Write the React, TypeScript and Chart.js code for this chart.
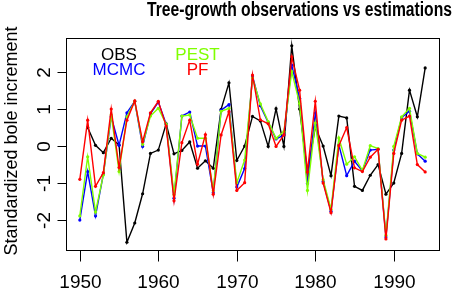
import React, { useEffect, useRef } from "react";
import { Chart, registerables } from "chart.js";

Chart.register(...registerables);

const years: number[] = [
  1950, 1951, 1952, 1953, 1954, 1955, 1956, 1957, 1958, 1959,
  1960, 1961, 1962, 1963, 1964, 1965, 1966, 1967, 1968, 1969,
  1970, 1971, 1972, 1973, 1974, 1975, 1976, 1977, 1978, 1979,
  1980, 1981, 1982, 1983, 1984, 1985, 1986, 1987, 1988, 1989,
  1990, 1991, 1992, 1993, 1994,
];

const obs: (number | null)[] = [
  null, 0.51, 0.03, -0.17, 0.22, 0.04, -2.59, -2.07, -1.28, -0.19,
  -0.1, 0.61, -0.2, -0.11, 0.12, -0.59, -0.39, -0.59, 1.0, 1.72,
  -0.38, 0.01, 0.81, 0.69, 0.0, 1.02, 0.0, 2.72, 1.01, -0.7,
  0.52, 0.01, -0.79, 0.82, 0.77, -1.08, -1.19, -0.78, -0.49, -1.29,
  -0.99, -0.19, 1.52, 0.8, 2.12,
];

const mcmc: number[] = [
  -1.99, -0.68, -1.88, -0.75, 0.8, 0.03, 0.91, 1.22, 0.0, 0.88,
  1.2, 0.6, -1.4, 0.82, 0.93, 0.01, 0.01, -1.25, 0.98, 1.13,
  -1.1, -0.6, 1.9, 1.1, 0.65, 0.2, 0.31, 2.2, 1.3, -1.0,
  0.9, -0.95, -1.75, 0.04, -0.79, -0.4, -0.66, -0.1, -0.08, -2.45,
  -0.1, 0.78, 0.95, -0.2, -0.4,
];

const pest: number[] = [
  -1.88, -0.28, -1.77, -0.77, 0.85, -0.68, 0.8, 1.22, 0.06, 0.82,
  1.03, 0.6, -1.3, 0.82, 0.85, 0.22, 0.22, -1.2, 0.95, 1.03,
  -0.98, -0.37, 1.85, 1.15, 0.67, 0.22, 0.4, 2.02, 1.16, -1.19,
  0.63, -0.9, -1.7, 0.23, -0.48, -0.28, -0.65, 0.02, -0.06, -2.4,
  0.0, 0.8, 1.03, -0.19, -0.29,
];

const pf: number[] = [
  -0.89, 0.71, -1.08, -0.71, 1.01, -0.57, 0.71, 1.23, 0.13, 0.91,
  1.22, 0.55, -1.47, 0.1, 0.71, -0.48, 0.32, -1.29, 0.31, 0.94,
  -1.19, -0.98, 1.93, 0.72, 0.61, 0.0, 0.31, 2.42, 1.52, -0.69,
  1.22, -0.99, -1.79, 0.02, 0.51, -0.58, -0.68, -0.29, -0.08, -2.5,
  -0.19, 0.71, 0.82, -0.49, -0.69,
];

const xTicks: number[] = [1950, 1960, 1970, 1980, 1990];
const yTicks: number[] = [-2, -1, 0, 1, 2];

const seriesNames: string[] = ["OBS", "MCMC", "PEST", "PF"];
const seriesColors: string[] = ["#000000", "#0000FF", "#7FFF00", "#FF0000"];

const titleText = "Tree-growth observations vs estimations";
const yTitle = "Standardized bole increment";

const FONT = "'Liberation Sans', Arial, Helvetica, sans-serif";

const toPoints = (vals: (number | null)[]) =>
  years.map((yr, i) => ({ x: yr, y: vals[i] }));

const rPlotPlugin = {
  id: "rPlot",
  afterDraw(chart: any) {
    const ctx = chart.ctx as CanvasRenderingContext2D;
    const area = chart.chartArea;
    const xs = chart.scales.x;
    const ys = chart.scales.y;
    ctx.save();
    ctx.strokeStyle = "#000";
    ctx.fillStyle = "#000";
    ctx.lineWidth = 1;
    // box
    const l = Math.round(area.left) + 0.5;
    const t = Math.round(area.top) + 0.5;
    const r = Math.round(area.right) + 0.5;
    const b = Math.round(area.bottom) + 0.5;
    ctx.strokeRect(l, t, r - l, b - t);

    // x ticks + labels
    ctx.font = `19px ${FONT}`;
    ctx.textAlign = "center";
    ctx.textBaseline = "alphabetic";
    xTicks.forEach((v) => {
      const px = Math.round(xs.getPixelForValue(v)) + 0.5;
      ctx.beginPath();
      ctx.moveTo(px, b);
      ctx.lineTo(px, b + 11);
      ctx.stroke();
      ctx.fillText(String(v), px, 288);
    });

    // y ticks + labels (rotated, R las=0)
    yTicks.forEach((v) => {
      const py = Math.round(ys.getPixelForValue(v)) + 0.5;
      ctx.beginPath();
      ctx.moveTo(l, py);
      ctx.lineTo(l - 9, py);
      ctx.stroke();
      ctx.save();
      ctx.translate(50, py);
      ctx.rotate(-Math.PI / 2);
      ctx.font = `19px ${FONT}`;
      ctx.textAlign = "center";
      ctx.fillText(String(v), 0, 0);
      ctx.restore();
    });

    // y title
    ctx.save();
    ctx.translate(17, 141);
    ctx.rotate(-Math.PI / 2);
    ctx.font = `18px ${FONT}`;
    ctx.textAlign = "center";
    ctx.fillText(yTitle, 0, 0);
    ctx.restore();

    // main title
    ctx.save();
    ctx.font = `bold 20px ${FONT}`;
    const w = ctx.measureText(titleText).width;
    const sx = 305 / w;
    ctx.translate(452, 16);
    ctx.scale(sx, 1);
    ctx.textAlign = "right";
    ctx.fillText(titleText, 0, 0);
    ctx.restore();

    // legend texts
    ctx.font = `17px ${FONT}`;
    ctx.textAlign = "center";
    const legendPos = [
      [119, 59.5],
      [119, 74.5],
      [197.5, 60],
      [197.5, 74.5],
    ];
    seriesNames.forEach((name, i) => {
      ctx.fillStyle = seriesColors[i];
      ctx.fillText(name, legendPos[i][0], legendPos[i][1]);
    });
    ctx.restore();
  },
};

export default function App() {
  const canvasRef = useRef<HTMLCanvasElement | null>(null);

  useEffect(() => {
    if (!canvasRef.current) return;
    const seriesData = [obs, mcmc, pest, pf];
    const datasets = seriesData.map((vals, i) => ({
      label: seriesNames[i],
      data: toPoints(vals),
      borderColor: seriesColors[i],
      backgroundColor: seriesColors[i],
      borderWidth: 1.4,
      pointRadius: 1.6,
      pointBorderWidth: 0,
      pointBackgroundColor: seriesColors[i],
      tension: 0,
      spanGaps: false,
      order: 4 - i,
    }));
    const chart = new Chart(canvasRef.current, {
      type: "line",
      data: { datasets },
      options: {
        animation: false,
        responsive: false,
        devicePixelRatio: 1,
        layout: { padding: { left: 66, right: 15, top: 38, bottom: 39 } },
        plugins: {
          legend: { display: false },
          title: { display: false },
          tooltip: { enabled: false },
        },
        scales: {
          x: { type: "linear", display: false, min: 1948.24, max: 1995.76 },
          y: { type: "linear", display: false, min: -2.8, max: 2.93 },
        },
      },
      plugins: [rPlotPlugin],
    });
    return () => chart.destroy();
  }, []);

  return (
    <div style={{ position: "fixed", left: 0, top: 0, width: 454, height: 289, background: "#fff" }}>
      <canvas ref={canvasRef} width={454} height={289} style={{ width: 454, height: 289, display: "block" }} />
    </div>
  );
}
